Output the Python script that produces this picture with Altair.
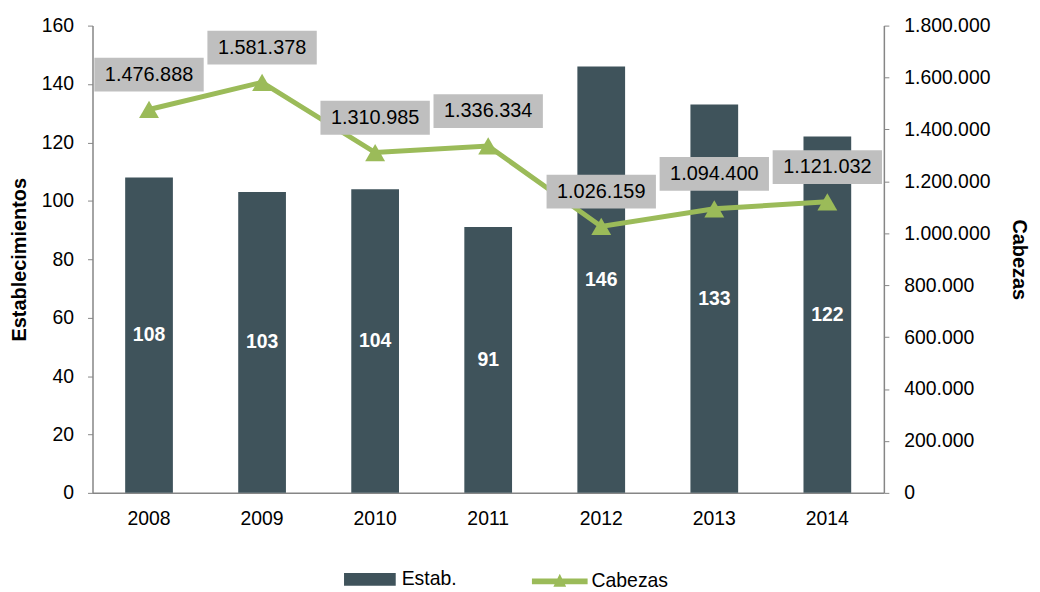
import altair as alt
import pandas as pd

years = ["2008", "2009", "2010", "2011", "2012", "2013", "2014"]
estab = [108, 103, 104, 91, 146, 133, 122]
cabezas = [1476888, 1581378, 1310985, 1336334, 1026159, 1094400, 1121032]
left_ticks = [0, 20, 40, 60, 80, 100, 120, 140, 160]
right_ticks = [0, 200000, 400000, 600000, 800000, 1000000, 1200000, 1400000, 1600000, 1800000]

BAR = "#3f535b"
GREEN = "#9bbb59"
BOX = "#bfbfbf"
AX = "#868686"
FONT = "Liberation Sans"

df = pd.DataFrame({
    "year": years,
    "estab": estab,
    "cabezas": cabezas,
})
df["half"] = df["estab"] / 2
df["lab"] = [format(v, ",").replace(",", ".") for v in cabezas]
df["s1"] = "Estab."
df["s2"] = "Cabezas"

X = alt.X("year:N", sort=None, title=None,
          scale=alt.Scale(paddingInner=0, paddingOuter=0),
          axis=alt.Axis(labelAngle=0, ticks=False, labelPadding=17, labelFontSize=19.5,
                        labelColor="#000000", domainColor=AX, domainWidth=1.5, grid=False))

left_axis = alt.Axis(values=left_ticks, tickSize=5, labelPadding=14, labelFontSize=19.5,
                     labelColor="#000000", domainColor=AX, tickColor=AX, domainWidth=1.5,
                     grid=False, title="Establecimientos", titleFontSize=20,
                     titleFontWeight="bold", titleColor="#000000", titleX=-73, titleY=235,
                     titleAngle=270, titleAlign="center", titleBaseline="middle")
left_scale = alt.Scale(domain=[0, 160], nice=False)
YL = alt.Y("estab:Q", scale=left_scale, axis=left_axis, title="Establecimientos")
YLh = alt.Y("half:Q", scale=left_scale, axis=left_axis, title="Establecimientos")

fmt = "replace(format(datum.value, ','), regexp(',', 'g'), '.')"
YR = alt.Y("cabezas:Q", scale=alt.Scale(domain=[0, 1800000], nice=False),
           axis=alt.Axis(orient="right", values=right_ticks, labelExpr=fmt, tickSize=5,
                         labelPadding=15, labelFontSize=19.5, labelColor="#000000",
                         domainColor=AX, tickColor=AX, domainWidth=1.5, grid=False,
                         title="Cabezas", titleFontSize=20, titleFontWeight="bold",
                         titleColor="#000000", titleX=135, titleY=235, titleAngle=90,
                         titleAlign="center", titleBaseline="middle"))
YR2 = alt.Y2("cabezas:Q")

base = alt.Chart(df)

bars = base.mark_bar(width=48).encode(
    x=X, y=YL,
    color=alt.Color("s1:N", scale=alt.Scale(domain=["Estab."], range=[BAR]),
                    legend=alt.Legend(title=None, orient="none", legendX=253, legendY=531,
                                      symbolType="M-1,-0.25L1,-0.25L1,0.25L-1,0.25Z",
                                      symbolSize=2704, symbolStrokeWidth=0,
                                      labelFontSize=19.5, labelColor="#000000", labelOffset=6)),
)
bar_text = base.mark_text(color="white", fontWeight="bold", fontSize=19.5, baseline="middle").encode(
    x=X, y=YLh, text="estab:Q")

line = base.mark_line(color=GREEN, strokeWidth=5).encode(x=X, y=YR)
pts = base.mark_point(shape="triangle-up", size=400, filled=True, opacity=1).encode(
    x=X, y=YR,
    fill=alt.Fill("s2:N", scale=alt.Scale(domain=["Cabezas"], range=[GREEN]),
                  legend=alt.Legend(title=None, orient="none", legendX=442, legendY=531,
                                    symbolType="M-1,-0.1L1,-0.1L1,0.1L-1,0.1Z M-0.23,0.19L0,-0.27L0.23,0.19Z",
                                    symbolSize=3136, symbolStrokeWidth=0,
                                    labelFontSize=19.5, labelColor="#000000", labelOffset=4)),
)
boxes = base.mark_bar(width=110, color=BOX, yOffset=-52, y2Offset=-18).encode(x=X, y=YR, y2=YR2)
box_text = base.mark_text(fontSize=20, color="#000000", baseline="middle", dy=-35).encode(
    x=X, y=YR, text="lab:N")

left = alt.layer(bars, bar_text)
right = alt.layer(line, pts, boxes, box_text)

chart = alt.layer(left, right).resolve_scale(y="independent", color="independent").properties(
    width=796, height=470,
    autosize=alt.AutoSizeParams(type="none"),
    padding={"left": 85, "top": 16, "right": 149, "bottom": 96},
).configure(font=FONT).configure_view(stroke=None)

chart.save("out.html", embed_options={"renderer": "svg", "actions": False})
